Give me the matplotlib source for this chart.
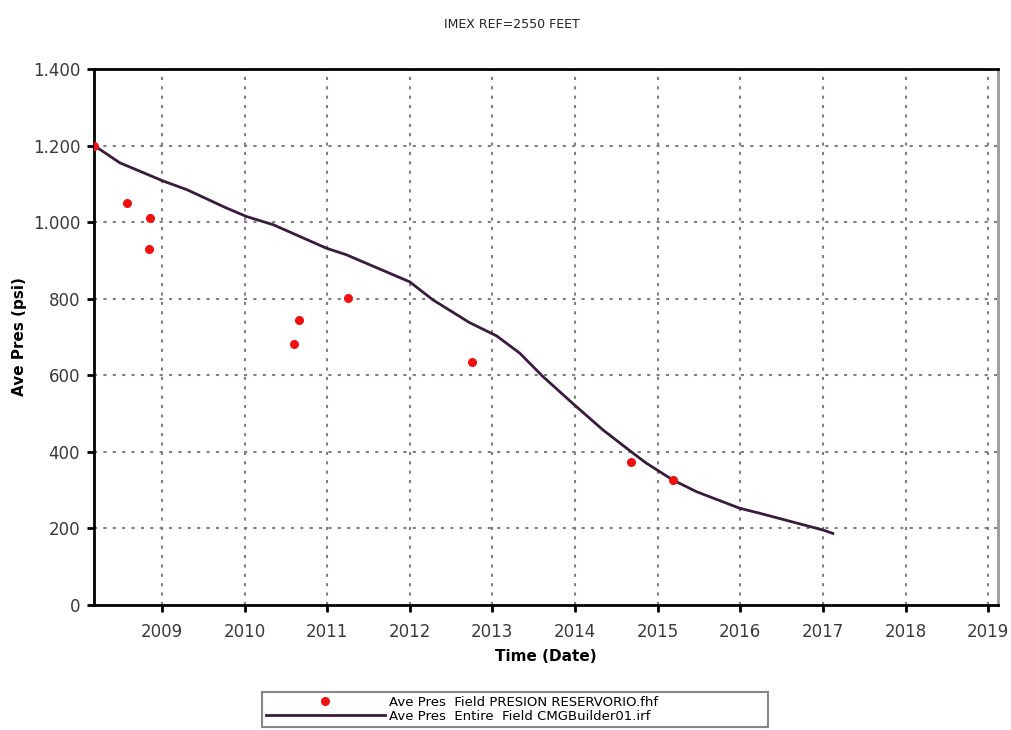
import numpy as np
import matplotlib
matplotlib.use("Agg")
import matplotlib.pyplot as plt

# Observed field pressure (decimal year, psi)
obs_year = [2008.18, 2008.58, 2008.855, 2008.84, 2010.60, 2010.66, 2011.25, 2012.75, 2014.68, 2015.18]
obs_psi = [1200, 1051, 1012, 931, 682, 745, 803, 635, 374, 327]

# Simulated average pressure (CMG)
sim_year = [2008.18, 2008.49, 2009.02, 2009.30, 2009.78, 2010.02, 2010.35, 2010.99, 2011.23,
            2012.00, 2012.28, 2012.72, 2013.05, 2013.33, 2013.61, 2013.97, 2014.34, 2014.70,
            2014.86, 2015.18, 2015.47, 2015.99, 2016.23, 2017.00, 2017.12]
sim_psi = [1200, 1155, 1107, 1085, 1037, 1015, 993, 932, 915,
           844, 797, 738, 703, 658, 597, 527, 457, 397,
           371, 327, 296, 253, 240, 196, 187]

year_ticks = list(range(2009, 2020))
psi_ticks = [0, 200, 400, 600, 800, 1000, 1200, 1400]
psi_labels = ["0", "200", "400", "600", "800", "1.000", "1.200", "1.400"]

fig = plt.figure(figsize=(10.12, 7.3), dpi=100)
ax = fig.add_axes([0.0929, 0.1712, 0.8933, 0.7343])

ax.plot(sim_year, sim_psi, color="#3b1a40", lw=2, label="Ave Pres  Entire  Field CMGBuilder01.irf", zorder=3)
ax.plot(obs_year, obs_psi, ls="none", marker="o", markersize=5.5, color="#f01010",
        markeredgecolor="#f01010", label="Ave Pres  Field PRESION RESERVORIO.fhf", zorder=4)

ax.set_xlim(2008.178, 2019.12)
ax.set_ylim(0, 1400)
ax.set_xticks(year_ticks)
ax.set_xticklabels([str(y) for y in year_ticks])
ax.set_yticks(psi_ticks)
ax.set_yticklabels(psi_labels)

# dotted grid
for y in psi_ticks[1:-1]:
    ax.axhline(y, color="#808080", ls=(0, (1.5, 3)), lw=1.5, zorder=1)
for x in year_ticks:
    ax.axvline(x, color="#808080", ls=(0, (1.5, 3)), lw=1.5, zorder=1)

ax.tick_params(direction="out", length=5, width=2, color="black", labelsize=12,
               labelcolor="#3a3a3a")
ax.tick_params(axis="x", pad=8)
ax.tick_params(axis="y", pad=5)
for side in ["left", "bottom", "top"]:
    ax.spines[side].set_linewidth(2)
    ax.spines[side].set_color("black")
ax.spines["right"].set_linewidth(2)
ax.spines["right"].set_color("#999999")

ax.set_xlabel("Time (Date)", fontsize=11, fontweight="bold", labelpad=6)
ax.set_ylabel("Ave Pres (psi)", fontsize=11, fontweight="bold", labelpad=4)

fig.text(0.506, 0.975, "IMEX REF=2550 FEET", ha="center", va="top", fontsize=9, color="#222222")

handles, labels = ax.get_legend_handles_labels()
leg = fig.legend(handles[::-1], labels[::-1], loc="lower left",
                 bbox_to_anchor=(262 / 1012, 3 / 730, 506 / 1012, 47 / 730),
                 mode="expand", fontsize=9.5, handlelength=9.0, handletextpad=0.3,
                 fancybox=False, framealpha=1, borderpad=0.3, labelspacing=0.1,
                 borderaxespad=0)
leg.get_frame().set_edgecolor("#888888")
leg.get_frame().set_linewidth(1.5)

fig.savefig("out.png", dpi=100)
